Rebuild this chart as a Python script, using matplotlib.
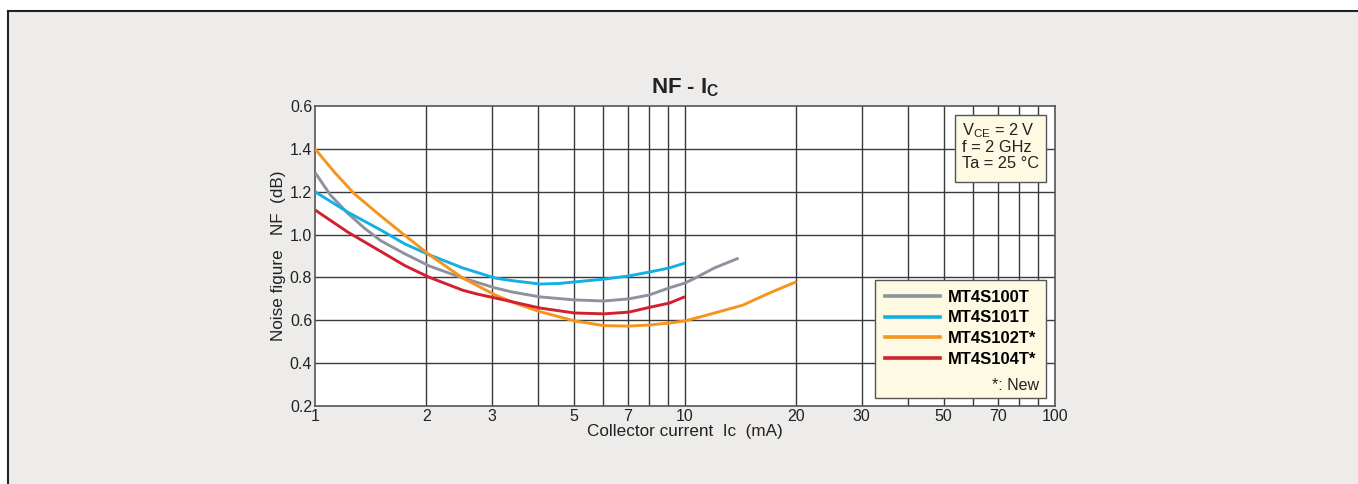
import numpy as np
import matplotlib.pyplot as plt
from matplotlib.patches import Rectangle
from matplotlib.lines import Line2D

# collector current (mA) / noise figure (dB)
ic_100 = [1.0, 1.1, 1.225, 1.36, 1.51, 1.75, 2.04, 2.51, 3.07, 3.41, 4.06, 5.03, 6.04,
          7.05, 8.0, 9.06, 10.0, 10.6, 12.0, 13.96]
nf_100 = [1.29, 1.185, 1.1, 1.03, 0.97, 0.91, 0.853, 0.797, 0.751, 0.732, 0.709, 0.695,
          0.69, 0.70, 0.718, 0.751, 0.774, 0.795, 0.844, 0.89]
ic_101 = [1.0, 1.225, 1.51, 1.75, 2.04, 2.51, 3.07, 3.41, 4.06, 4.58, 5.03, 6.04, 7.05,
          8.0, 9.06, 10.0]
nf_101 = [1.2, 1.105, 1.02, 0.956, 0.905, 0.844, 0.797, 0.785, 0.769, 0.772, 0.779, 0.792,
          0.807, 0.825, 0.844, 0.867]
ic_102 = [1.0, 1.13, 1.278, 1.51, 1.738, 2.04, 2.51, 3.07, 3.5, 4.06, 5.03, 6.04, 7.05,
          8.0, 9.06, 10.0, 11.5, 14.3, 16.9, 20.0]
nf_102 = [1.4, 1.29, 1.19, 1.085, 1.0, 0.905, 0.797, 0.718, 0.678, 0.64, 0.597, 0.575,
          0.573, 0.578, 0.587, 0.597, 0.625, 0.67, 0.727, 0.78]
ic_104 = [1.0, 1.225, 1.51, 1.75, 2.04, 2.51, 2.75, 3.07, 4.06, 5.03, 6.04, 7.05, 8.0,
          9.06, 10.0]
nf_104 = [1.115, 1.012, 0.92, 0.855, 0.80, 0.74, 0.722, 0.704, 0.657, 0.634, 0.63, 0.638,
          0.66, 0.68, 0.71]

series = [
    ('MT4S100T', ic_100, nf_100, '#8d929c'),
    ('MT4S101T', ic_101, nf_101, '#13b0e6'),
    ('MT4S102T*', ic_102, nf_102, '#f7941d'),
    ('MT4S104T*', ic_104, nf_104, '#d2202f'),
]

x_ticks = [1, 2, 3, 5, 7, 10, 20, 30, 50, 70, 100]
x_grid = [2, 3, 4, 5, 6, 7, 8, 9, 10, 20, 30, 40, 50, 60, 70, 80, 90]
y_ticks = [0.2, 0.4, 0.6, 0.8, 1.0, 1.2, 1.4, 1.6]
y_labels = ['0.2', '0.4', '0.6', '0.8', '1.0', '1.2', '1.4', '0.6']
cond_lines = [r'V$_\mathregular{CE}$ = 2 V', 'f = 2 GHz', 'Ta = 25 °C']

plt.rcParams['font.family'] = ['Liberation Sans', 'DejaVu Sans']
fig = plt.figure(figsize=(13.58, 4.84), dpi=100)
fig.patch.set_facecolor('white')
bg = Rectangle((8 / 1358, 0), 1 - 8 / 1358, 1 - 10 / 484, transform=fig.transFigure,
               facecolor='#edecea', edgecolor='none', zorder=-10)
fig.patches.append(bg)
fig.add_artist(Line2D([8 / 1358, 1], [1 - 10.5 / 484] * 2, color='#222222', lw=1.5))
fig.add_artist(Line2D([8 / 1358] * 2, [0, 1 - 10.5 / 484], color='#222222', lw=1.5))

ax = fig.add_axes([315 / 1358, 1 - 406 / 484, 740 / 1358, 300 / 484])
ax.set_facecolor('white')
ax.set_xscale('log')
ax.set_xlim(1, 100)
ax.set_ylim(0.2, 1.6)

for xv in x_grid:
    ax.axvline(xv, color='#3a3a3a', lw=1.0, zorder=1)
for yv in y_ticks[1:-1]:
    ax.axhline(yv, color='#3a3a3a', lw=1.0, zorder=1)

for name, ic, nf, col in series:
    ax.plot(ic, nf, color=col, lw=2.1, zorder=3, solid_capstyle='butt')

ax.set_xticks(x_ticks)
ax.set_xticklabels([str(v) for v in x_ticks])
ax.xaxis.set_minor_locator(plt.NullLocator())
ax.set_yticks(y_ticks)
ax.set_yticklabels(y_labels)
ax.tick_params(length=0, labelsize=11.5, colors='#222222', pad=2)
for sp in ax.spines.values():
    sp.set_color('#555555')
    sp.set_linewidth(1.2)

ax.set_xlabel('Collector current  Ic  (mA)', fontsize=12.3, color='#222222', labelpad=0)
ax.set_ylabel('Noise figure   NF  (dB)', fontsize=12.3, color='#222222', labelpad=3)
ax.set_title(r'NF - I$_\mathregular{C}$', fontsize=16, fontweight='bold', color='#222222', pad=9)

# condition box
ax.add_patch(Rectangle((0.865, 0.747), 0.123, 0.223, transform=ax.transAxes,
                       facecolor='#fdf9e3', edgecolor='#555555', lw=1.0, zorder=5))
for i, line in enumerate(cond_lines):
    ax.text(0.874, 0.917 - i * 0.054, line, transform=ax.transAxes, ha='left', va='center',
            fontsize=11.8, color='#222222', zorder=6)

handles = [Line2D([], [], color=c, lw=2.6) for _, _, _, c in series]
labels = [s[0] for s in series]
handles.append(Line2D([], [], color='none'))
labels.append(' ')
leg = ax.legend(handles, labels, loc='lower right', bbox_to_anchor=(0.9878, 0.027),
                frameon=True, fancybox=False, prop={'weight': 'bold', 'size': 12},
                handlelength=3.3, handletextpad=0.45, borderpad=0.6, labelspacing=0.35,
                borderaxespad=0)
leg.get_frame().set_facecolor('#fdf9e3')
leg.get_frame().set_edgecolor('#555555')
leg.get_frame().set_linewidth(1.0)
leg.get_frame().set_alpha(1)
leg.set_zorder(5)
ax.text(0.979, 0.068, '*: New', transform=ax.transAxes, ha='right', va='center',
        fontsize=11.5, color='#222222', zorder=6)

fig.savefig('out.png', dpi=100, facecolor=fig.get_facecolor())
